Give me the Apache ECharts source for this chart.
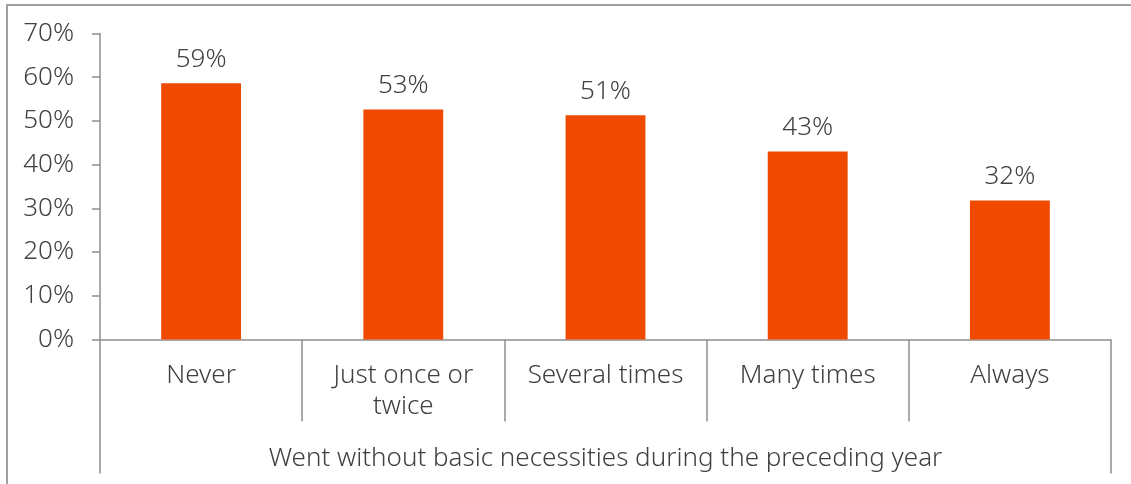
<!DOCTYPE html>
<html>
<head>
<meta charset="utf-8">
<script src="https://cdn.jsdelivr.net/npm/echarts@6/dist/echarts.min.js"></script>
<style>
html,body{margin:0;padding:0;background:#fff;}
#chart{width:1131px;height:484px;}
</style>
</head>
<body>
<div id="chart"></div>
<script>
const categories = ['Never', 'Just once or\ntwice', 'Several times', 'Many times', 'Always'];
const values = [58.6, 52.6, 51.3, 43.0, 31.8];
const groupLabel = ['Went without basic necessities during the preceding year'];
const yTicks = [0, 10, 20, 30, 40, 50, 60, 70];

const FONT = '"Noto Sans", sans-serif';
const FS = 26;
const FW = 300;
const TXT = '#404040';
const LINE = '#8f8f8f';

const chart = echarts.init(document.getElementById('chart'));
chart.setOption({
  animation: false,
  backgroundColor: '#ffffff',
  graphic: [{
    type: 'rect',
    shape: { x: 7, y: 5, width: 1300, height: 700 },
    style: { fill: 'none', stroke: '#a0a0a0', lineWidth: 2 },
    silent: true
  }],
  grid: { left: 100, right: 20, top: 33.5, bottom: 144.5 },
  xAxis: [{
    type: 'category',
    data: categories,
    position: 'bottom',
    axisLine: { show: true, lineStyle: { color: LINE, width: 1.5 } },
    axisTick: { show: true, interval: 0, length: 82, lineStyle: { color: LINE, width: 1.5 } },
    axisLabel: { interval: 0, margin: 21, color: TXT, fontFamily: FONT, fontWeight: FW, fontSize: FS, lineHeight: 31 }
  }, {
    type: 'category',
    data: groupLabel,
    position: 'bottom',
    axisLine: { show: false },
    axisTick: { show: true, length: 134, lineStyle: { color: LINE, width: 1.5 } },
    axisLabel: { margin: 104, color: TXT, fontFamily: FONT, fontWeight: FW, fontSize: FS, lineHeight: 31 }
  }],
  yAxis: {
    type: 'value',
    min: yTicks[0],
    max: yTicks[yTicks.length - 1],
    interval: 10,
    splitLine: { show: false },
    axisLine: { show: true, lineStyle: { color: LINE, width: 1.5 } },
    axisTick: { show: true, length: 8, lineStyle: { color: LINE, width: 1.5 } },
    axisLabel: { margin: 26, color: TXT, fontFamily: FONT, fontWeight: FW, fontSize: FS, padding: [6, 0, 0, 0], formatter: v => v + '%' }
  },
  series: [{
    type: 'bar',
    data: values,
    xAxisIndex: 0,
    barWidth: '39.5%',
    itemStyle: { color: '#EF4A00' },
    label: {
      show: true,
      position: 'top',
      distance: 11,
      color: TXT,
      fontFamily: FONT,
      fontWeight: FW,
      fontSize: FS,
      formatter: p => Math.round(p.value) + '%'
    }
  }]
});
</script>
</body>
</html>
